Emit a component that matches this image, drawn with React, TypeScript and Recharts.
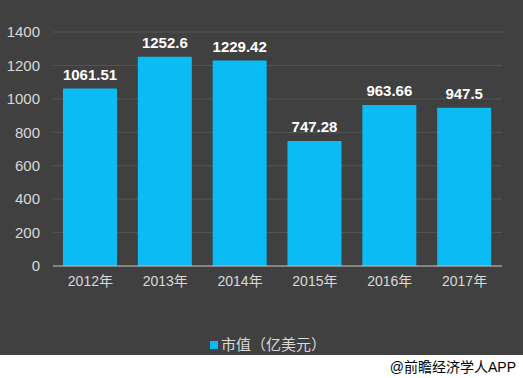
import React from 'react';
import { BarChart, Bar, XAxis, YAxis, CartesianGrid, LabelList } from 'recharts';

const years = ['2012年', '2013年', '2014年', '2015年', '2016年', '2017年'];
const marketValue = [1061.51, 1252.6, 1229.42, 747.28, 963.66, 947.5];
const yTicks = [0, 200, 400, 600, 800, 1000, 1200, 1400];

const data = years.map((year, i) => ({ year, value: marketValue[i] }));

const FONT = '"Liberation Sans", Arial, "Noto Sans CJK SC", sans-serif';
const BAR_COLOR = '#0BBBF4';

export default function App() {
  return (
    <div
      style={{
        position: 'absolute',
        left: 0,
        top: 0,
        width: 523,
        height: 378,
        background: '#ffffff',
        fontFamily: FONT,
      }}
    >
      <div style={{ position: 'relative', width: 523, height: 355, background: '#404040' }}>
        <BarChart
          width={523}
          height={355}
          data={data}
          margin={{ top: 32, right: 21, bottom: 59, left: 0 }}
        >
          <CartesianGrid vertical={false} stroke="#555555" />
          <XAxis
            dataKey="year"
            height={30}
            tickLine={false}
            tickSize={0}
            tickMargin={10}
            axisLine={{ stroke: '#bfbfbf' }}
            tick={{ fill: '#d9d9d9', fontSize: 14, fontFamily: FONT }}
          />
          <YAxis
            width={53}
            domain={[0, 1400]}
            ticks={yTicks}
            axisLine={false}
            tickLine={false}
            tickSize={0}
            tickMargin={13}
            tick={{ fill: '#d9d9d9', fontSize: 15, fontFamily: FONT }}
          />
          <Bar dataKey="value" fill={BAR_COLOR} barSize={54} isAnimationActive={false}>
            <LabelList
              dataKey="value"
              position="top"
              offset={9}
              fill="#ffffff"
              fontSize={15}
              fontWeight="bold"
              fontFamily={FONT}
            />
          </Bar>
        </BarChart>
        <div
          style={{
            position: 'absolute',
            left: 210,
            top: 336,
            display: 'flex',
            alignItems: 'center',
            color: '#d9d9d9',
            fontSize: 15,
            lineHeight: '18px',
          }}
        >
          <span style={{ width: 8, height: 8, background: BAR_COLOR, marginRight: 3, display: 'inline-block' }} />
          市值（亿美元）
        </div>
      </div>
      <div
        style={{
          position: 'absolute',
          right: 7,
          top: 359,
          color: '#000000',
          fontSize: 14,
          lineHeight: '17px',
        }}
      >
        @前瞻经济学人APP
      </div>
    </div>
  );
}
